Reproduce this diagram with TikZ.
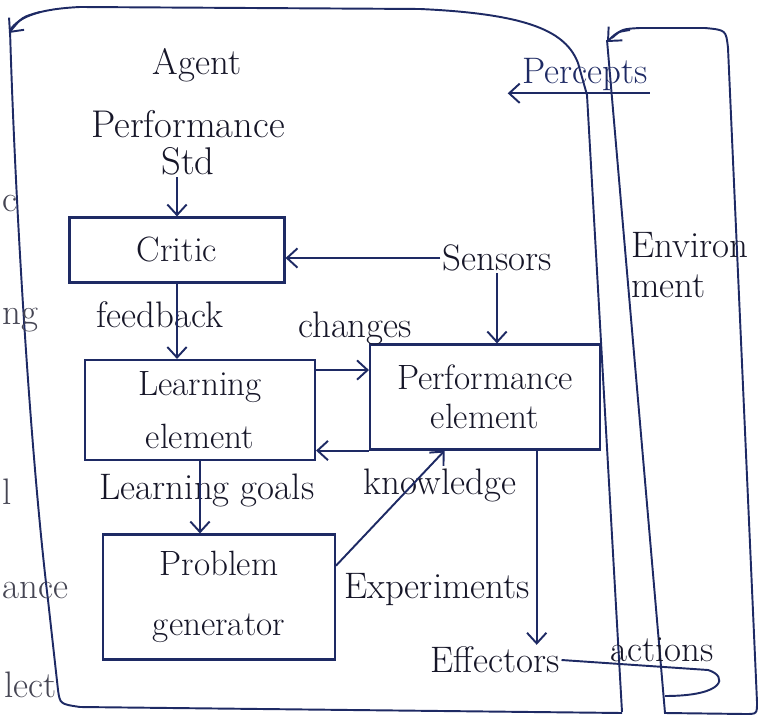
\documentclass[tikz,border=0pt]{standalone}
\usepackage{amsmath}
\usepackage{tikz}
\usetikzlibrary{arrows.meta}

\definecolor{ink}{RGB}{30,42,100}
\definecolor{pen}{RGB}{22,22,40}

\begin{document}
\begin{tikzpicture}[
		x=0.02cm, y=-0.02cm,
		every node/.style={text=pen, inner sep=1pt, font=\fontsize{21}{23}\selectfont},
		blk/.style={draw=ink, line width=1.2pt, align=center, font=\fontsize{20}{22}\selectfont},
		ln/.style={draw=ink, line width=1.1pt},
		arr/.style={ln, -{Straight Barb[length=6pt, width=11pt]}},
		frag/.style={anchor=west, text=pen!80, inner sep=0pt}
	]
  \useasboundingbox (0,0) rectangle (763,722);
  % outer frames
  \draw[ln] (622,712) -- (587,95) -- (578,63) .. controls (566,32) and (530,14) .. (420,9)
    -- (80,7) .. controls (40,9) and (20,16) .. (10,30);
  \draw[arr] (40,12) .. controls (22,17) .. (9,33);
  \draw[ln] (10,30) .. controls (15,200) and (30,450) .. (48,600) -- (58,690)
    .. controls (60,704) .. (80,707) -- (622,713);
  \draw[ln] (757,702) -- (728,48) .. controls (726,30) .. (705,28) -- (640,28)
    .. controls (622,29) .. (612,38);
  \draw[arr] (630,30) .. controls (617,32) .. (607,42);
  \draw[ln] (607,40) -- (665,713) -- (745,714) .. controls (757,714) .. (757,702);
  % cut-off words at the left edge
  \node (f_c) [frag] at (2,203) {c};
  \node (f_ng) [frag] at (2,320) {ng};
  \node (f_l) [frag] at (2,492) {l};
  \node (f_ance) [frag] at (2,590) {ance};
  \node (f_lect) [frag] at (4,685) {lect};
  % labels
  \node (agent) at (197,65) {Agent};
  \node (std) [align=center, font=\fontsize{22}{21}\selectfont] at (188,143) {Performance\\Std};
  \node (perc) [text=ink] at (585,75) {Percepts};
  \node (env) [align=left, font=\fontsize{21}{23}\selectfont] at (690,265) {Environ\\ment};
  % blocks
  \node (critic) [blk, minimum width=4.3cm, minimum height=1.3cm] at (177,250) {Critic};
  \node (learn) [blk, minimum width=4.6cm, minimum height=2cm] at (200,410) {Learning\\[8pt]element};
  \node (perf) [blk, minimum width=4.6cm, minimum height=2.1cm] at (485,397) {Performance\\element};
  \node (prob) [blk, minimum width=4.64cm, minimum height=2.5cm] at (219,597) {Problem\\[12pt]generator};
  \node (sens) at (497,258) {Sensors};
  \node (eff) at (495,660) {Effectors};
  \coordinate (act) at (665,696);
  \node (feed) at (160,315) {feedback};
  \node (chg) at (355,328) {changes};
  \node (know) at (440,485) {knowledge};
  \node (goals) at (207,490) {Learning goals};
  \node (expt) at (437,590) {Experiments};
  \node (acts) at (662,650) {actions};
  % connectors
  \draw[arr] (perc.south east) -- ([xshift=-0.25cm]perc.south west);
  \draw[arr] (std.south -| critic.north) -- (critic.north);
  \draw[arr] (sens.west) -- (critic.east |- sens.west);
  \draw[arr] (sens.south) -- (sens.south |- perf.north);
  \draw[arr] (critic.south) -- (critic.south |- learn.north);
  \draw[arr] (learn.19) -- (perf.west |- learn.19);
  \draw[arr] (perf.south west) -- (learn.east |- perf.south west);
  \draw[arr] (learn.south) -- (learn.south |- prob.north);
  \draw[arr] (prob.15) -- (perf.233);
  \draw[arr] (perf.-46) -- (perf.-46 |- eff.north);
  \draw[ln] (eff.east) -- (708,670) .. controls (728,676) and (726,696) .. (act);
\end{tikzpicture}
\end{document}
